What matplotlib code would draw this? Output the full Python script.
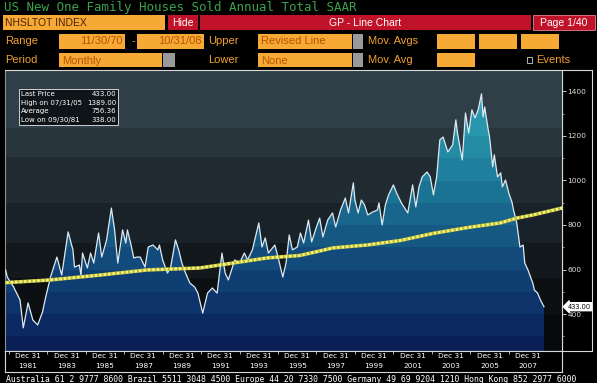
import numpy as np
import matplotlib.pyplot as plt
from matplotlib.patches import Rectangle
from matplotlib.transforms import blended_transform_factory

W, H = 597, 383

# --- Data ---
months = ['1980-10', '1980-11', '1981-03', '1981-07', '1981-09', '1981-12',
          '1982-03', '1982-06', '1982-09', '1982-11', '1983-02', '1983-06',
          '1983-09', '1984-01', '1984-04', '1984-05', '1984-08', '1984-09',
          '1984-10', '1985-01', '1985-03', '1985-05', '1985-08', '1985-10',
          '1986-01', '1986-04', '1986-06', '1986-08', '1986-11', '1987-01',
          '1987-02', '1987-04', '1987-06', '1987-08', '1987-10', '1988-01',
          '1988-03', '1988-06', '1988-09', '1988-10', '1988-12', '1989-03',
          '1989-05', '1989-08', '1989-10', '1989-12', '1990-02', '1990-05',
          '1990-08', '1990-10', '1991-01', '1991-04', '1991-07', '1991-10',
          '1992-01', '1992-03', '1992-05', '1992-07', '1992-09', '1992-12',
          '1993-03', '1993-05', '1993-08', '1993-12', '1994-02', '1994-04',
          '1994-06', '1994-10', '1994-12', '1995-03', '1995-05', '1995-07',
          '1995-09', '1995-12', '1996-02', '1996-04', '1996-07', '1996-09',
          '1996-12', '1997-02', '1997-04', '1997-07', '1997-10', '1997-12',
          '1998-03', '1998-06', '1998-08', '1998-11', '1998-12', '1999-02',
          '1999-04', '1999-06', '1999-08', '1999-11', '2000-02', '2000-03',
          '2000-05', '2000-07', '2000-09', '2000-12', '2001-02', '2001-05',
          '2001-09', '2001-12', '2002-02', '2002-04', '2002-06', '2002-09',
          '2002-11', '2003-01', '2003-03', '2003-05', '2003-07', '2003-10',
          '2004-01', '2004-03', '2004-04', '2004-07', '2004-09', '2004-11',
          '2005-01', '2005-03', '2005-05', '2005-07', '2005-08', '2005-09',
          '2005-11', '2005-12', '2006-02', '2006-03', '2006-05', '2006-07',
          '2006-08', '2006-10', '2006-12', '2007-02', '2007-03', '2007-05',
          '2007-07', '2007-09', '2007-10', '2007-12', '2008-03', '2008-04',
          '2008-06', '2008-08', '2008-10']
sales = [598, 566, 521, 463, 338, 450,
         373, 351, 409, 476, 566, 656,
         575, 769, 688, 611, 620, 575,
         674, 607, 674, 629, 764, 656,
         733, 876, 778, 629, 778, 719,
         778, 719, 652, 656, 656, 611,
         701, 710, 688, 710, 643, 584,
         611, 733, 688, 629, 589, 539,
         521, 494, 404, 494, 517, 494,
         674, 584, 553, 598, 643, 629,
         674, 643, 688, 809, 701, 742,
         674, 710, 656, 566, 629, 755,
         688, 701, 764, 719, 822, 724,
         791, 831, 746, 822, 854, 791,
         867, 921, 854, 989, 912, 854,
         912, 890, 845, 858, 867, 899,
         800, 890, 935, 980, 944, 899,
         854, 980, 881, 971, 1016, 1038,
         1016, 935, 1016, 1182, 1195, 1128,
         1160, 1272, 1213, 1092, 1303, 1213,
         1317, 1281, 1320, 1389, 1285, 1330,
         1236, 1196, 1061, 1115, 1016, 1034,
         971, 1002, 944, 903, 867, 809,
         701, 710, 629, 598, 539, 508,
         494, 460, 433]

# "Revised Line" (yellow trend line)
trend_years = [1980.86, 1983.14, 1985.74, 1988.19, 1990.94, 1992.66, 1994.43,
               1996.14, 1997.86, 1999.63, 2001.34, 2003.06, 2004.83, 2006.55,
               2007.43, 2008.26, 2009.77]
trend_vals = [541, 553, 575, 598, 607, 629, 652, 663, 697, 710, 730, 762,
              788, 809, 831, 845, 876]

year_labels = ['1981', '1983', '1985', '1987', '1989', '1991', '1993', '1995',
               '1997', '1999', '2001', '2003', '2005', '2007']
y_ticks = [400, 600, 800, 1000, 1200, 1400]

stats_names = ['Last Price', 'High on 07/31/05', 'Average', 'Low on 09/30/81']
stats_values = ['433.00', '1389.00', '756.36', '338.00']
last_price = 433.00

t = np.array([int(s[:4]) + int(s[5:]) / 12 for s in months])
v = np.array(sales)

XMIN, XMAX = 1980.8, 2009.77
YMIN, YMAX = 234, 1496

ORANGE = '#f7a935'
ORANGE_TXT = '#f0a030'
BOX_TXT = '#b85400'
RED = '#c01228'
SANS = 'Liberation Sans'

fig = plt.figure(figsize=(W / 100, H / 100), dpi=100, facecolor='black')


def box(x0, y0, x1, y1, **kw):
    # pixel coords, y measured from the top
    fig.patches.append(Rectangle((x0 / W, 1 - y1 / H), (x1 - x0) / W, (y1 - y0) / H,
                                 transform=fig.transFigure, **kw))


def txt(x, y, s, **kw):
    kw.setdefault('va', 'center')
    fig.text(x / W, 1 - y / H, s, **kw)


# --- Header ---
txt(4, 7, 'US New One Family Houses Sold Annual Total SAAR', color='#3aa24c',
    family='DejaVu Sans Mono', fontsize=9)

box(3, 15, 165, 30, facecolor=ORANGE, lw=0)
txt(5, 23, 'NHSLTOT INDEX', color='#4a2200', family=SANS, fontsize=7.5)
box(168, 15, 198, 30, facecolor=RED, lw=0)
txt(183, 22.5, 'Hide', color='white', family=SANS, fontsize=7.5, ha='center')
box(200, 15, 531, 30, facecolor=RED, lw=0)
txt(365, 22.5, 'GP - Line Chart', color='white', family=SANS, fontsize=7.5, ha='center')
box(533, 15, 595, 30, facecolor=RED, edgecolor='#e88090', lw=0.6)
txt(564, 22.5, 'Page 1/40', color='white', family=SANS, fontsize=7.5, ha='center')

# row 2
txt(5, 41, 'Range', color=ORANGE_TXT, family=SANS, fontsize=8)
box(59, 34, 125, 49, facecolor=ORANGE, lw=0)
txt(123, 41.5, '11/30/70', color=BOX_TXT, family=SANS, fontsize=8, ha='right')
txt(132, 41, '-', color=ORANGE_TXT, family=SANS, fontsize=8)
box(137, 34, 204, 49, facecolor=ORANGE, lw=0)
txt(202, 41.5, '10/31/08', color=BOX_TXT, family=SANS, fontsize=8, ha='right')
txt(208, 41, 'Upper', color=ORANGE_TXT, family=SANS, fontsize=8)
box(258, 34, 352, 49, facecolor=ORANGE, lw=0)
txt(261, 41.5, 'Revised Line', color=BOX_TXT, family=SANS, fontsize=8)
box(353, 34, 363, 49, facecolor='#9a9a9a', lw=0)
txt(368, 41, 'Mov. Avgs', color=ORANGE_TXT, family=SANS, fontsize=8)
for x0 in (437, 479, 521):
    box(x0, 34, x0 + 38, 49, facecolor=ORANGE, lw=0)

# row 3
txt(5, 60, 'Period', color=ORANGE_TXT, family=SANS, fontsize=8)
box(59, 53, 162, 67, facecolor=ORANGE, lw=0)
txt(62, 60.5, 'Monthly', color=BOX_TXT, family=SANS, fontsize=8)
box(163, 53, 175, 67, facecolor='#9a9a9a', lw=0)
txt(208, 60, 'Lower', color=ORANGE_TXT, family=SANS, fontsize=8)
box(258, 53, 352, 67, facecolor=ORANGE, lw=0)
txt(261, 60.5, 'None', color=BOX_TXT, family=SANS, fontsize=8)
box(353, 53, 363, 67, facecolor='#9a9a9a', lw=0)
txt(368, 60, 'Mov. Avg', color=ORANGE_TXT, family=SANS, fontsize=8)
box(437, 53, 475, 67, facecolor=ORANGE, lw=0)
box(527, 56.5, 532, 62.5, facecolor='black', edgecolor='#d0d0d0', lw=0.6)
txt(536, 60, 'Events', color=ORANGE_TXT, family=SANS, fontsize=8)

# --- Right price panel (drawn first so the tick labels sit on top) ---
ax_r = fig.add_axes([562 / W, 1 - 351 / H, 30 / W, 281 / H], facecolor='black')
ax_r.set_xticks([])
ax_r.set_yticks([])
for s in ax_r.spines.values():
    s.set_color('#d8d8d8')
    s.set_linewidth(0.8)

# --- Main plot ---
ax = fig.add_axes([5 / W, 1 - 351 / H, 557 / W, 281 / H])
ax.set_xlim(XMIN, XMAX)
ax.set_ylim(YMIN, YMAX)

# banded background and banded blue fill
bg_edges = [234, 400, 560, 720, 900, 1106, 1236, 1496]
bg_cols = ['#07090b', '#0c1013', '#12181c', '#192228', '#202b32', '#28353d', '#2f3e47']
fill_edges = [234, 300, 400, 500, 600, 700, 800, 900, 1000, 1100, 1200, 1300, 1496]
fill_cols = ['#091f55', '#0b2962', '#0d336a', '#0f3f72', '#124b7b', '#155983',
             '#18668c', '#1b7394', '#1f7f9c', '#238ba4', '#2897ad', '#2ea2b6']


def band_image(edges, cols):
    yy = np.arange(YMIN, YMAX + 1)
    idx = np.clip(np.searchsorted(edges, yy, side='right') - 1, 0, len(cols) - 1)
    rgb = np.array([plt.matplotlib.colors.to_rgb(cols[i]) for i in idx])
    return rgb[:, None, :]


ext = [XMIN, XMAX, YMIN, YMAX]
ax.imshow(band_image(bg_edges, bg_cols), extent=ext, origin='lower',
          aspect='auto', interpolation='nearest', zorder=0)
poly = ax.fill_between(t, v, YMIN, color='none', lw=0)
im = ax.imshow(band_image(fill_edges, fill_cols), extent=ext, origin='lower',
               aspect='auto', interpolation='nearest', zorder=1)
im.set_clip_path(poly.get_paths()[0], transform=ax.transData)

ax.plot(t, v, color='#dde9f2', lw=0.9, zorder=3)
ax.plot(trend_years, trend_vals, color='#b8b83c', lw=2.6, zorder=4,
        solid_capstyle='round')
ax.plot(trend_years, trend_vals, color='#f6f47a', lw=2.0, zorder=5,
        linestyle=(0, (0.9, 0.7)))

ax.set_xticks([])
ax.yaxis.tick_right()
ax.set_yticks(y_ticks)
ax.set_yticklabels([str(y) for y in y_ticks])
ax.set_yticks(np.arange(300, 1500, 100), minor=True)
ax.tick_params(axis='y', which='major', direction='out', length=3, width=0.6,
               colors='#e0e0e0', labelsize=5.3, pad=1)
ax.tick_params(axis='y', which='minor', direction='out', length=1.5, width=0.5,
               colors='#c0c0c0')
for side, col in [('top', '#d8d8d8'), ('bottom', '#d8d8d8'), ('left', '#909090'),
                  ('right', '#d8d8d8')]:
    ax.spines[side].set_color(col)
    ax.spines[side].set_linewidth(0.8)

# last price tag
ax.annotate(f'{last_price:.2f}', xy=(1.0, last_price),
            xycoords=blended_transform_factory(ax.transAxes, ax.transData),
            xytext=(4, 0), textcoords='offset points', va='center', ha='left',
            fontsize=4.8, color='black', annotation_clip=False, zorder=10,
            bbox=dict(boxstyle='larrow,pad=0.15', fc='white', ec='white'))

# stats box
box(19, 89, 118, 125, facecolor='#0e1418', edgecolor='#d0d0d0', lw=0.7, zorder=5)
for i, (name, val) in enumerate(zip(stats_names, stats_values)):
    yy = 94 + i * 8.7
    txt(21, yy, name, color='white', fontsize=5, zorder=6)
    txt(116, yy, val, color='white', fontsize=5, ha='right', zorder=6)

# --- Date axis box ---
ax_x = fig.add_axes([5 / W, 1 - 372 / H, 557 / W, 21 / H], facecolor='black')
ax_x.set_xlim(XMIN, XMAX)
ax_x.set_ylim(0, 1)
ax_x.set_yticks([])
ax_x.set_xticks([int(y) for y in year_labels])
ax_x.set_xticklabels([])
ax_x.tick_params(axis='x', direction='in', length=2.5, width=0.6, colors='#d0d0d0',
                 top=True, bottom=False)
for s in ax_x.spines.values():
    s.set_color('#d8d8d8')
    s.set_linewidth(0.8)
for lab in year_labels:
    xd = int(lab) + 1.0
    ax_x.text(xd, 0.74, 'Dec 31', color='white', fontsize=5.3, ha='center', va='center')
    ax_x.text(xd, 0.27, lab, color='white', fontsize=5.3, ha='center', va='center')

# --- Footer ---
txt(6, 379, 'Australia 61 2 9777 8600 Brazil 5511 3048 4500 Europe 44 20 7330 7500 '
    'Germany 49 69 9204 1210 Hong Kong 852 2977 6000',
    color='white', family='DejaVu Sans Mono', fontsize=5.9)
txt(6, 389, 'Japan 81 3 3201 8900 Singapore 65 6212 1000 U.S. 1 212 318 2000 '
    'Copyright 2008 Bloomberg Finance L.P.',
    color='white', family='DejaVu Sans Mono', fontsize=5.9)

fig.savefig('out.png', dpi=100, facecolor='black')
